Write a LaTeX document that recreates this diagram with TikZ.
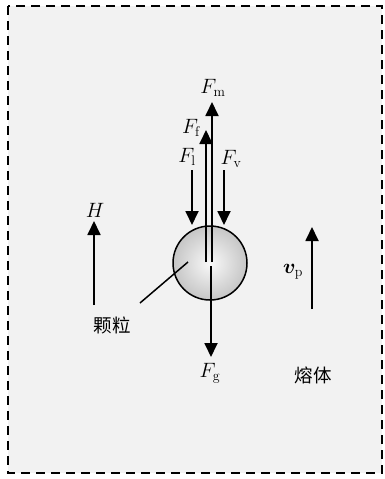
\documentclass[tikz,border=0pt]{standalone}
\usepackage{fontspec}
\usepackage{amssymb,amsmath}
\usepackage{bm}
\usepackage{xcolor}
\usepackage{tikz}
\usetikzlibrary{arrows.meta}
\usetikzlibrary{calc}
\newfontfamily\cjk{Noto Sans CJK SC}
\definecolor{melt}{HTML}{F2F2F2}
\tikzset{
  force/.style={line width=1.8pt,-{Triangle[length=14pt,width=13pt]}},
  lab/.style={font=\fontsize{20}{22}\selectfont, inner sep=1pt},
  cn/.style={font=\fontsize{18.5}{20}\selectfont\cjk, inner sep=1pt},
}

\begin{document}
\begin{tikzpicture}[x=1pt,y=-1pt]
\useasboundingbox (0,0) rectangle (385,479);
\draw[fill=melt, line width=2pt, dash pattern=on 9pt off 6pt] (8,6) rectangle (382,473);
% particle
\node[circle, draw, line width=1.5pt, minimum size=74pt, inner sep=0pt, inner color=gray!5, outer color=gray!45] (P) at (210,263) {};
\coordinate (O) at (210,262);
% forces on the particle
\coordinate (Ff0) at ($(O)+(-4,0)$);
\coordinate (Ff1) at (206,130);
\coordinate (Fm0) at ($(O)+(2,0)$);
\coordinate (Fm1) at (212,102);
\coordinate (Fg0) at (211,266);
\coordinate (Fg1) at (211,357);
\draw[force] (Ff0) -- (Ff1);
\draw[force] (Fm0) -- (Fm1);
\draw[force] (Fg0) -- (Fg1);
\foreach \x/\w in {192/l,224/v}{
    \coordinate (F\w0) at (\x,170);
    \coordinate (F\w1) at (\x,225);
    \draw[force] (F\w0) -- (F\w1);
}
\node[lab] (Lm) at (213,88) {$F_{\mathrm{m}}$};
\node[lab] (Lf) at (191,128) {$F_{\mathrm{f}}$};
\node[lab] (Ll) at (187,157) {$F_{\mathrm{l}}$};
\node[lab] (Lv) at (231,159) {$F_{\mathrm{v}}$};
\node[lab] (Lg) at (210,373) {$F_{\mathrm{g}}$};
% height and pulling speed
\coordinate (H0) at (94,305);
\coordinate (H1) at (94,221);
\draw[force] (H0) -- (H1);
\node[lab] (LH) at (95,210) {$H$};
\coordinate (v0) at (312,309);
\coordinate (v1) at (312,227);
\draw[force] (v0) -- (v1);
\node[lab] (Lv) at (293,272) {$\bm{v}_{\mathrm{p}}$};
% labels
\node[cn] (particle) at (112,325) {颗粒};
\coordinate (K) at (140,303);
\draw[line width=1.5pt] (K) -- ($(O)+(-22,0)$);
\node[cn] (melt) at (313,375) {熔体};
\end{tikzpicture}
\end{document}
